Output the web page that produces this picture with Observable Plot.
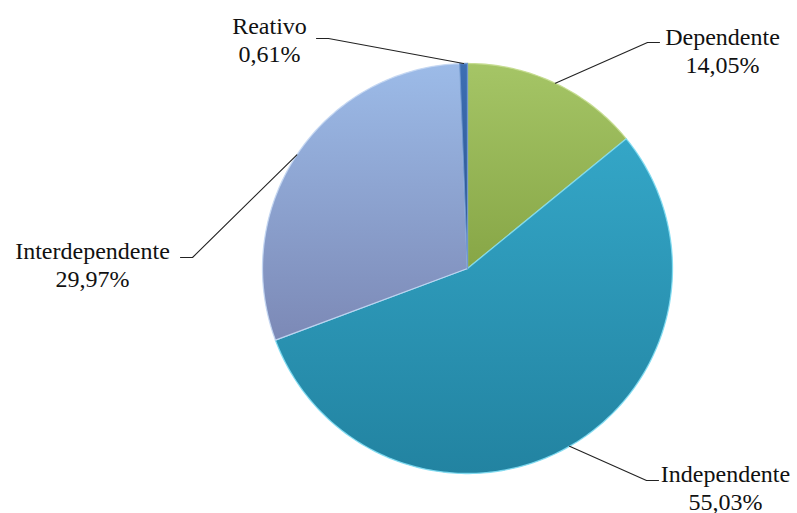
<!DOCTYPE html>
<html><head><meta charset="utf-8">
<script src="https://cdn.jsdelivr.net/npm/d3@7"></script>
<script src="https://cdn.jsdelivr.net/npm/@observablehq/plot@0.6"></script>
<style>body{margin:0;background:#fff}</style>
</head><body><div id="chart"></div>
<script>
// ---- data ----
const categories = ["Dependente", "Independente", "Interdependente", "Reativo"];
const values = [14.05, 55.03, 29.97, 0.61];
// ---- styles ----
const colorTop = ["#a5c566", "#34a6c7", "#9cbbe8", "#3d6fb4"];
const colorBottom = ["#87a646", "#2283a1", "#7c89b6", "#2a528c"];
const colorEdge = ["#c4dc8e", "#7fdcf2", "#c3d6f2", "#6f97cf"];
const fontStack = "Liberation Serif";
// ---- layout (pixels) ----
const W = 797, H = 513, cx = 467, cy = 268, R = 205;
// label centre x, last-line baseline y, leader end x, leader end y, elbow direction
const labelLayout = [
  {lx: 722, ly: 72, ex: 659, ey: 42, side: -1},
  {lx: 725, ly: 509, ex: 658, ey: 480, side: -1},
  {lx: 92, ly: 286, ex: 180, ey: 257, side: 1},
  {lx: 269, ly: 61, ex: 316, ey: 38, side: 1}
];

const ux = px => (px - cx) / R;
const uy = py => (cy - py) / R;
const fmt = v => d3.format(".2f")(v).replace(".", ",") + "%";

const arcs = d3.pie().sort(null).value(d => d)(values);

function slicePts(s) {
  const n = Math.max(2, Math.ceil((s.endAngle - s.startAngle) / (Math.PI / 180)));
  const pts = [[0, 0]];
  for (let i = 0; i <= n; i++) {
    const a = s.startAngle + (s.endAngle - s.startAngle) * i / n;
    pts.push([Math.sin(a), Math.cos(a)]);
  }
  pts.push([0, 0]);
  return pts;
}

const sliceMarks = arcs.map((s, i) => Plot.line(slicePts(s), {
  x: d => d[0], y: d => d[1],
  fill: `url(#grad${i})`, stroke: colorEdge[i], strokeWidth: 1.3, strokeOpacity: 0.9,
  curve: "linear", ariaLabel: "slice"
}));

const leaderMarks = arcs.map((s, i) => {
  const L = labelLayout[i];
  const mid = (s.startAngle + s.endAngle) / 2;
  const pts = [
    [Math.sin(mid), Math.cos(mid)],
    [ux(L.ex + L.side * 12), uy(L.ey)],
    [ux(L.ex), uy(L.ey)]
  ];
  return Plot.line(pts, {x: d => d[0], y: d => d[1], stroke: "#222", strokeWidth: 1.1, curve: "linear"});
});

const labels = categories.map((c, i) => ({
  text: c + "\n" + fmt(values[i]),
  x: ux(labelLayout[i].lx),
  y: uy(labelLayout[i].ly)
}));

const plot = Plot.plot({
  width: W, height: H,
  margin: 0,
  x: {domain: [ux(0), ux(W)], range: [0, W], axis: null},
  y: {domain: [uy(H), uy(0)], range: [H, 0], axis: null},
  style: {background: "white"},
  marks: [
    ...sliceMarks,
    ...leaderMarks,
    Plot.text(labels, {
      x: "x", y: "y", text: "text",
      textAnchor: "middle", lineAnchor: "bottom", lineHeight: 28 / 24,
      fontSize: 24, fill: "#111", ariaLabel: "labels"
    })
  ]
});

const svgNS = "http://www.w3.org/2000/svg";
const defs = document.createElementNS(svgNS, "defs");
colorTop.forEach((c, i) => {
  const g = document.createElementNS(svgNS, "linearGradient");
  g.setAttribute("id", "grad" + i);
  g.setAttribute("x1", "0"); g.setAttribute("y1", "0");
  g.setAttribute("x2", "0"); g.setAttribute("y2", "1");
  [[0, c], [1, colorBottom[i]]].forEach(([o, col]) => {
    const st = document.createElementNS(svgNS, "stop");
    st.setAttribute("offset", o);
    st.setAttribute("stop-color", col);
    g.appendChild(st);
  });
  defs.appendChild(g);
});
plot.insertBefore(defs, plot.firstChild);
plot.querySelectorAll('g[aria-label="slice"]').forEach(g => {
  g.style.filter = "drop-shadow(0px 2px 2px rgba(0,0,0,0.35))";
});
plot.style.fontFamily = fontStack;
plot.querySelectorAll('g[aria-label="labels"] text').forEach(t => {
  t.setAttribute("font-family", fontStack);
  t.style.fontFamily = fontStack;
});
document.getElementById("chart").appendChild(plot);
</script>
</body></html>
